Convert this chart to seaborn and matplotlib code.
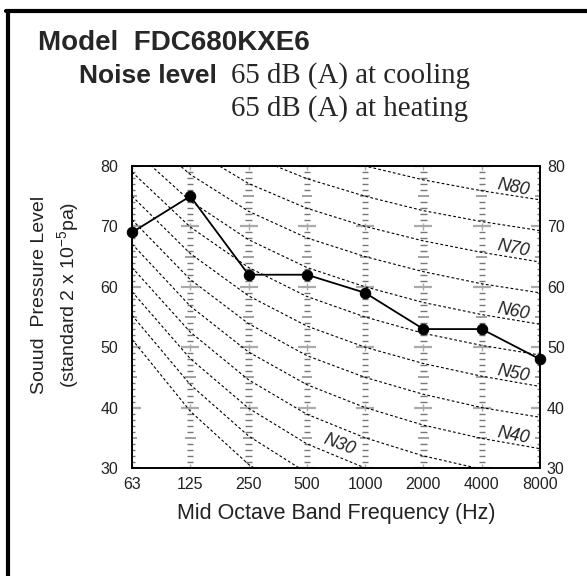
import numpy as np
import pandas as pd
import matplotlib
matplotlib.use('Agg')
import matplotlib.pyplot as plt
import seaborn as sns
from matplotlib.lines import Line2D

# ---- data ----
freq_labels = ['63', '125', '250', '500', '1000', '2000', '4000', '8000']
spl_values = [69, 75, 62, 62, 59, 53, 53, 48]

# NR (noise rating) reference curves, dB per octave band
nr_levels = [20, 25, 30, 35, 40, 45, 50, 55, 60, 65, 70, 75, 80]
nr_table = [
    [51.3, 39.4, 30.6, 24.3, 20.0, 16.8, 14.4, 12.6],
    [55.3, 43.8, 35.3, 29.2, 25.0, 21.9, 19.5, 17.8],
    [59.2, 48.1, 39.9, 34.0, 30.0, 27.0, 24.7, 22.9],
    [63.2, 52.5, 44.6, 38.9, 35.0, 32.0, 29.8, 28.1],
    [67.1, 56.8, 49.2, 43.8, 40.0, 37.1, 34.9, 33.2],
    [71.1, 61.2, 53.9, 48.6, 45.0, 42.2, 40.0, 38.4],
    [75.0, 65.5, 58.5, 53.5, 50.0, 47.3, 45.2, 43.5],
    [79.0, 69.9, 63.2, 58.4, 55.0, 52.3, 50.3, 48.7],
    [82.9, 74.2, 67.8, 63.2, 60.0, 57.4, 55.4, 53.8],
    [86.9, 78.6, 72.5, 68.1, 65.0, 62.5, 60.5, 59.0],
    [90.8, 82.9, 77.1, 73.0, 70.0, 67.6, 65.7, 64.1],
    [94.8, 87.3, 81.8, 77.9, 75.0, 72.6, 70.8, 69.3],
    [98.7, 91.6, 86.4, 82.7, 80.0, 77.7, 75.9, 74.4],
]
nr_labelled = [80, 70, 60, 50, 40, 30]
y_ticks = [30, 40, 50, 60, 70, 80]

# ---- style ----
sns.set_style('white')
plt.rcParams['font.family'] = ['Liberation Sans', 'DejaVu Sans']
plt.rcParams['mathtext.fontset'] = 'custom'
plt.rcParams['mathtext.rm'] = 'Liberation Sans'
plt.rcParams['mathtext.it'] = 'Liberation Sans:italic'

fig = plt.figure(figsize=(5.87, 5.76), dpi=100)
ax = fig.add_axes([132 / 587, 1 - 468 / 576, 408 / 587, 302 / 576])

xpos = list(range(len(freq_labels)))

# ladder of dB marks at each octave band
for i in xpos:
    for v in range(30, 81):
        if v % 10 == 0:
            hw, c, lw = 0.155, '#aaaaaa', 1.6
        elif v % 5 == 0:
            hw, c, lw = 0.09, '#999999', 1.3
        else:
            hw, c, lw = 0.055, '#777777', 1.0
        ax.hlines(v, i - hw, i + hw, color=c, lw=lw, zorder=1)
    ax.vlines([i] * len(y_ticks), [v - 0.6 for v in y_ticks],
              [v + 0.6 for v in y_ticks], color='#aaaaaa', lw=1.0, zorder=1)

# NR curves
nr_df = pd.DataFrame([
    {'x': xpos[j], 'spl': row[j], 'nr': lvl}
    for lvl, row in zip(nr_levels, nr_table) for j in range(len(xpos))
])
sns.lineplot(data=nr_df, x='x', y='spl', units='nr', estimator=None,
             color='black', lw=0.8, ax=ax, zorder=2)
for ln in ax.lines:
    ln.set_dashes((2.5, 2.0))

# NR labels
for lvl in nr_labelled:
    row = nr_table[nr_levels.index(lvl)]
    if lvl == 30:
        xl, rot, off = 3.55, -21, 2.0
    else:
        xl, rot, off = 6.54, -11, 1.4
    j = int(xl)
    yl = row[j] + (row[j + 1] - row[j]) * (xl - j) + off
    ax.text(xl, yl, f'N{lvl}', fontsize=12.8, style='italic', color='#222222',
            ha='center', va='center', rotation=rot, zorder=4)

# measured spectrum
spl_df = pd.DataFrame({'x': xpos, 'spl': spl_values})
sns.lineplot(data=spl_df, x='x', y='spl', color='black', lw=1.3, marker='o',
             markersize=7.5, markeredgecolor='black', ax=ax, zorder=5,
             clip_on=False)

ax.set_xlim(0, 7)
ax.set_ylim(30, 80)
ax.set_xticks(xpos)
ax.set_xticklabels(freq_labels)
ax.set_yticks(y_ticks)
ax.tick_params(axis='both', length=0, labelsize=11.5, colors='#222222')
ax.tick_params(axis='y', pad=10)
ax.tick_params(axis='x', pad=6.5)
ax.set_xlabel('Mid Octave Band Frequency (Hz)', fontsize=15.5, color='#222222',
              labelpad=8)
ax.set_ylabel('')
for sp in ax.spines.values():
    sp.set_visible(True)
    sp.set_color('black')
    sp.set_linewidth(1.4)

axr = ax.twinx()
axr.set_ylim(30, 80)
axr.set_yticks(y_ticks)
axr.tick_params(axis='y', length=0, labelsize=11.5, pad=5, colors='#222222')
for sp in axr.spines.values():
    sp.set_visible(False)

fig.text(56 / 587, 1 - 295 / 576,
         'Souud  Pressure Level\n(standard 2 x 10$^{-5}$pa)',
         rotation=90, ha='center', va='center', multialignment='center',
         fontsize=14, color='#222222', linespacing=1.35)

# header
fig.text(38 / 587, 1 - 50 / 576, 'Model  FDC680KXE6', fontsize=20,
         weight='bold', ha='left', va='baseline')
fig.text(79 / 587, 1 - 83 / 576, 'Noise level', fontsize=19,
         weight='bold', ha='left', va='baseline')
fig.text(231 / 587, 1 - 83 / 576, '65 dB (A) at cooling', fontsize=20.8,
         family=['Liberation Serif', 'DejaVu Serif'], ha='left', va='baseline')
fig.text(231 / 587, 1 - 116 / 576, '65 dB (A) at heating', fontsize=20.8,
         family=['Liberation Serif', 'DejaVu Serif'], ha='left', va='baseline')

# frame lines around the sheet
fig.add_artist(Line2D([6 / 587, 1], [1 - 11 / 576, 1 - 11 / 576],
                      color='black', lw=3.0, transform=fig.transFigure))
fig.add_artist(Line2D([8 / 587, 8 / 587], [0, 1 - 11 / 576],
                      color='black', lw=3.0, transform=fig.transFigure))

fig.savefig('out.png', dpi=100)
